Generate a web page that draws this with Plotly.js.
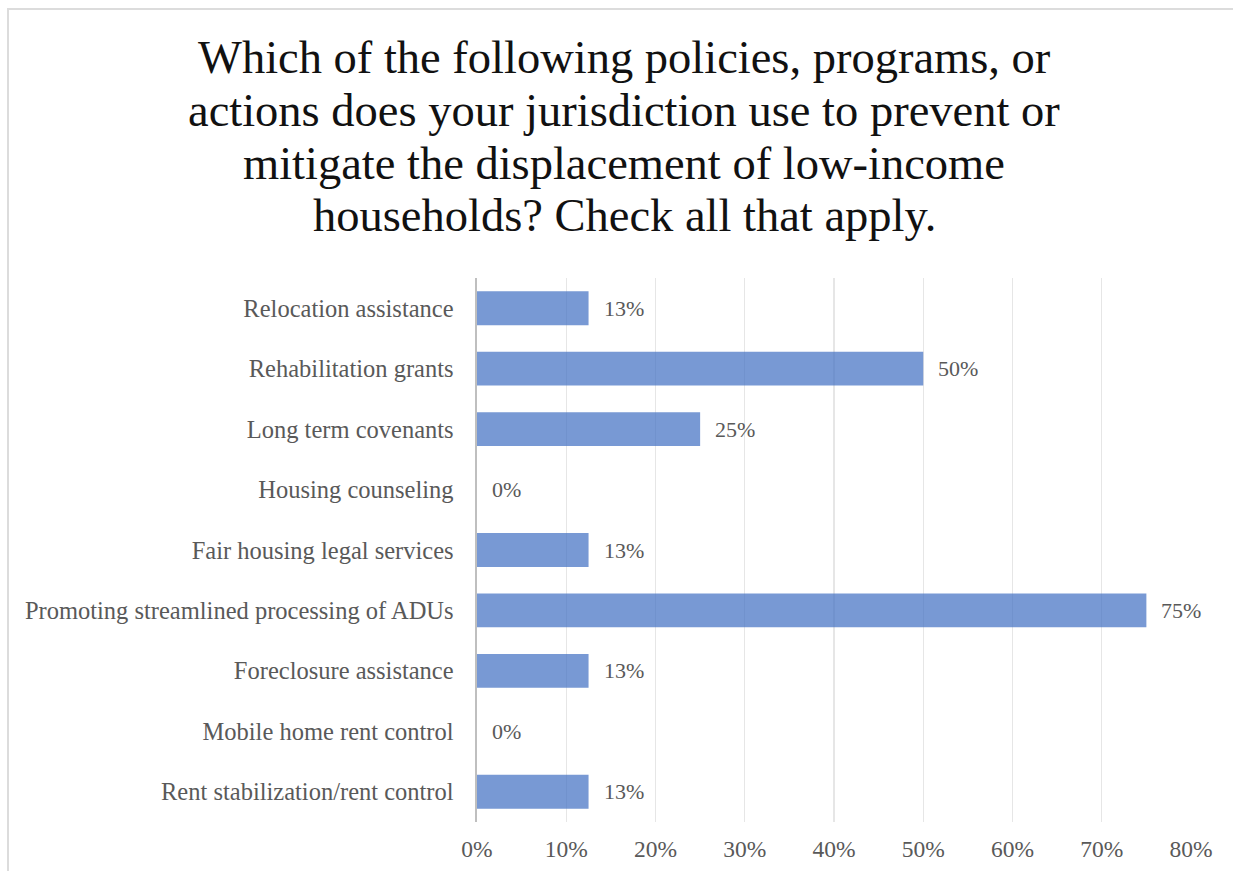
<!DOCTYPE html>
<html>
<head>
<meta charset="utf-8">
<script src="https://cdn.plot.ly/plotly-3.0.1.min.js"></script>
<style>
html,body{margin:0;padding:0;background:#fff;}
#frame{position:absolute;left:7px;top:8px;width:1226px;height:863px;border-left:2px solid #dcdcdc;border-top:2px solid #dcdcdc;box-sizing:border-box;}
#chart{position:absolute;left:0;top:0;width:1224px;height:861px;}
</style>
</head>
<body>
<div id="frame"><div id="chart"></div></div>
<script>
const categories = [
  "Relocation assistance",
  "Rehabilitation grants",
  "Long term covenants",
  "Housing counseling",
  "Fair housing legal services",
  "Promoting streamlined processing of ADUs",
  "Foreclosure assistance",
  "Mobile home rent control",
  "Rent stabilization/rent control"
];
const values = [12.5, 50, 25, 0, 12.5, 75, 12.5, 0, 12.5];
const valueLabels = ["13%", "50%", "25%", "0%", "13%", "75%", "13%", "0%", "13%"];
const xTickVals = [0, 10, 20, 30, 40, 50, 60, 70, 80];
const xTickText = ["0%", "10%", "20%", "30%", "40%", "50%", "60%", "70%", "80%"];
const titleLines = [
  "Which of the following policies, programs, or",
  "actions does your jurisdiction use to prevent or",
  "mitigate the displacement of low-income",
  "households? Check all that apply."
];

const font = "Liberation Serif, Times New Roman, serif";

const trace = {
  type: "bar",
  orientation: "h",
  y: categories,
  x: values,
  marker: {color: "#4472c4", opacity: 0.72},
  hoverinfo: "none"
};

// plot area geometry (div pixels) used only to place the title lines
const M = {l: 468, r: 42, t: 268, b: 49};
const W = 1224, H = 861;
const plotH = H - M.t - M.b, plotW = W - M.l - M.r;
const titleCenters = [47, 100, 153, 206];

const annotations = [];
titleLines.forEach((t, i) => {
  annotations.push({
    text: t, xref: "paper", yref: "paper",
    x: (615 - M.l) / plotW, y: 1 + (M.t - titleCenters[i]) / plotH,
    xanchor: "center", yanchor: "middle", showarrow: false,
    font: {family: font, size: 46.5, color: "#111111"}
  });
});
categories.forEach((c, i) => {
  annotations.push({
    text: valueLabels[i], x: values[i], y: c, xref: "x", yref: "y",
    xanchor: "left", yanchor: "middle", xshift: 13, showarrow: false,
    font: {family: font, size: 22, color: "#595959"}
  });
});

const layout = {
  width: W,
  height: H,
  margin: M,
  paper_bgcolor: "#ffffff",
  plot_bgcolor: "#ffffff",
  showlegend: false,
  bargap: 0.44,
  annotations: annotations,
  xaxis: {
    range: [0, 80],
    tickvals: xTickVals,
    ticktext: xTickText,
    showgrid: true,
    gridcolor: "#e6e6e6",
    gridwidth: 1.2,
    zeroline: false,
    showline: false,
    ticks: "",
    ticklabelstandoff: 10,
    tickfont: {family: font, size: 23.5, color: "#595959"},
    fixedrange: true
  },
  yaxis: {
    autorange: "reversed",
    showgrid: false,
    zeroline: false,
    showline: true,
    linecolor: "#bfbfbf",
    linewidth: 2.5,
    ticks: "",
    ticklabelstandoff: 16,
    tickfont: {family: font, size: 24.5, color: "#595959"},
    fixedrange: true
  }
};

Plotly.newPlot("chart", [trace], layout, {displayModeBar: false, staticPlot: true});
</script>
</body>
</html>
